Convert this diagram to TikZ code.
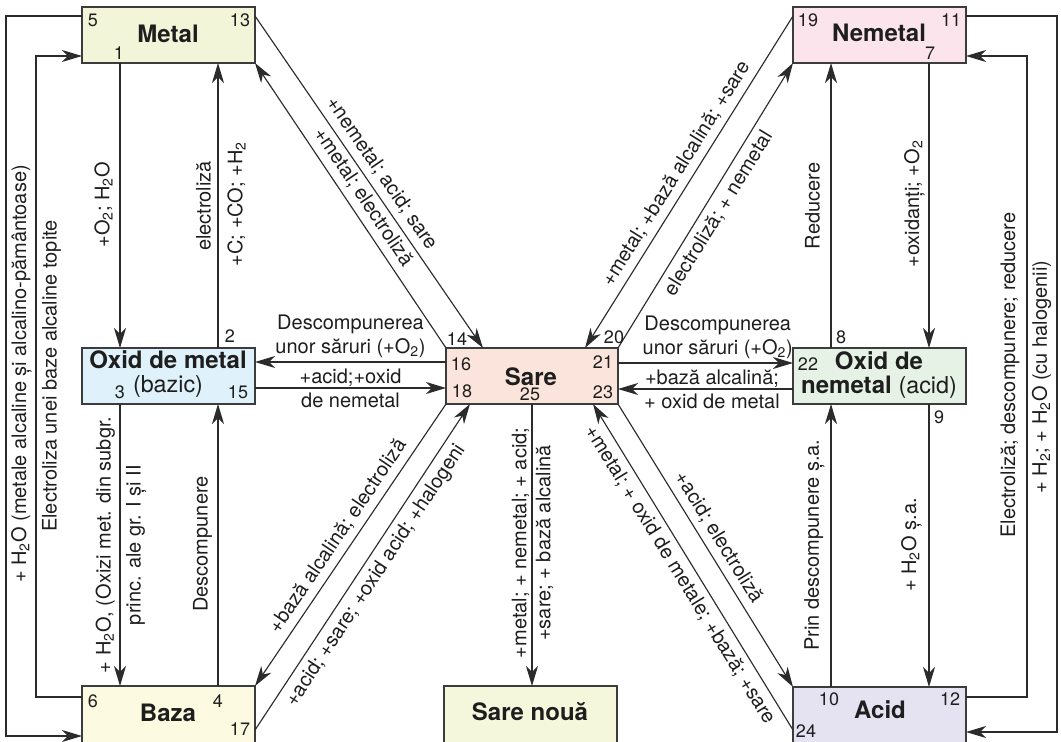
\documentclass[tikz,border=0pt]{standalone}
\usepackage{fontspec}
\setmainfont{TeX Gyre Heros}
\usetikzlibrary{arrows.meta,calc}
\newcommand\labfont{\fontsize{15}{18}\selectfont}
\newcommand\numfont{\fontsize{13.5}{16}\selectfont}
\newcommand\ttlfont{\fontsize{18}{21}\selectfont\bfseries}
\newcommand\ttlreg{\fontsize{17.5}{21}\selectfont}
\definecolor{metalc}{HTML}{F3F5D8}
\definecolor{oxmc}{HTML}{DFF1FA}
\definecolor{bazac}{HTML}{FCFBE1}
\definecolor{sarec}{HTML}{FBE4DB}
\definecolor{snc}{HTML}{F5F7DD}
\definecolor{nemc}{HTML}{FCE4EC}
\definecolor{oxnc}{HTML}{E5F2E5}
\definecolor{acidc}{HTML}{E5E2F1}
\definecolor{boxc}{HTML}{3C3C3C}
\definecolor{linec}{HTML}{2B2B2B}
\definecolor{txt}{HTML}{1E1E1E}
\begin{document}
\begin{tikzpicture}[x=0.75pt,y=-0.75pt,
 box/.style={draw=boxc, line width=1.1pt, minimum width=129.75pt, minimum height=42pt, inner sep=0pt, outer sep=0pt},
 bboxs/.style={box, minimum height=46.5pt},
 num/.style={font=\numfont, anchor=base, inner sep=0pt, text=txt},
 ttl/.style={font=\ttlfont, anchor=base, inner sep=0pt, text=txt},
 lab/.style={font=\labfont, inner sep=0pt, text=txt},
 vlab/.style={lab, rotate=90},
 slab/.style={font=\labfont, sloped, inner sep=4.5pt, text=txt, pos=0.5},
 con/.style={draw=linec, line width=0.85pt},
 arr/.style={con, -{Stealth[length=15pt,width=9pt,inset=4.5pt]}},
 rarr/.style={con, {Stealth[length=15pt,width=9pt,inset=4.5pt]}-},
]
\useasboundingbox (0,0) rectangle (1061,742);
\clip (0,0) rectangle (1061,742);
\fill[white] (0,0) rectangle (1061,742);

% boxes
\node[box, fill=metalc] (metal) at (168.5,35) {};
\node[box, fill=oxmc] (oxm) at (168.5,376) {};
\node[bboxs, fill=bazac] (baza) at (168.5,717) {};
\node[box, fill=sarec, minimum width=129pt] (sare) at (532,376) {};
\node[bboxs, fill=snc] (sarenoua) at (530.5,717) {};
\node[box, fill=nemc] (nemetal) at (879.5,35) {};
\node[box, fill=oxnc] (oxn) at (879.5,376) {};
\node[bboxs, fill=acidc] (acid) at (879.5,718) {};

% column / loop coordinates
\coordinate (cA) at (120,0);
\coordinate (cB) at (218,0);
\coordinate (cC) at (831,0);
\coordinate (cD) at (929,0);
\coordinate (cS) at (532,0);
\coordinate (lo1) at (6,16);
\coordinate (lo2) at (6,736);
\coordinate (li1) at (36,56);
\coordinate (li2) at (36,697);
\coordinate (ro1) at (1057,16);
\coordinate (ro2) at (1057,732);
\coordinate (ri1) at (1027,56);
\coordinate (ri2) at (1027,697);

% verticals
\draw[arr] (cA |- metal.south) -- (cA |- oxm.north);
\draw[arr] (cB |- oxm.north) -- (cB |- metal.south);
\draw[arr] (cA |- oxm.south) -- (cA |- baza.north);
\draw[arr] (cB |- baza.north) -- (cB |- oxm.south);
\draw[arr] (cD |- nemetal.south) -- (cD |- oxn.north);
\draw[arr] (cC |- oxn.north) -- (cC |- nemetal.south);
\draw[arr] (cD |- oxn.south) -- (cD |- acid.north);
\draw[arr] (cC |- acid.north) -- (cC |- oxn.south);
\draw[arr] (cS |- sare.south) -- (cS |- sarenoua.north);

% loops
\draw[arr] (lo1 -| metal.west) -- (lo1) -- (lo2) -- (lo2 -| baza.west);
\draw[arr] (li2 -| baza.west) -- (li2) -- (li1) -- (li1 -| metal.west);
\draw[arr] (ro1 -| nemetal.east) -- (ro1) -- (ro2) -- (ro2 -| acid.east);
\draw[arr] (ri2 -| acid.east) -- (ri2) -- (ri1) -- (ri1 -| nemetal.east);

% diagonals
\draw[arr] ($(metal.north east)+(0,9)$) -- node[slab, above] (lL1) {+nemetal; acid; sare} ($(sare.north west)+(37,0)$);
\draw[rarr] (metal.south east) -- node[slab, above] (lL2) {+metal; electroliză} (sare.north west);
\draw[rarr] ($(sare.north east)+(-33,0)$) -- node[slab, above] (lR1) {+metal; +bază alcalină; +sare} ($(nemetal.north west)+(0,9)$);
\draw[arr] (sare.north east) -- node[slab, below] (lR2) {electroliză; + nemetal} (nemetal.south west);
\draw[rarr] (baza.north east) -- node[slab, above] (lB1) {+bază alcalină; electroliză} (sare.south west);
\draw[arr] ($(baza.north east)+(0,44)$) -- node[slab, below] (lB2) {+acid; +sare; +oxid acid; +halogeni} ($(sare.south west)+(24,0)$);
\draw[rarr] ($(sare.south east)+(-25,0)$) -- node[slab, below] (lC1) {+metal; + oxid de metale; +bază; +sare} ($(acid.north west)+(0,43)$);
\draw[arr] (sare.south east) -- node[slab, above] (lC2) {+acid; electroliză} (acid.north west);

% horizontals
\draw[arr] ($(sare.north west)+(0,14)$) -- node[lab, above, inner sep=3pt, align=center] (lH1) {Descompunerea\\unor săruri (+O\textsubscript{2})} ($(oxm.north east)+(0,14)$);
\draw[arr] ($(oxm.north east)+(0,40)$) -- node[lab, align=center] (lH2) {+acid;+oxid\\de nemetal} ($(sare.north west)+(0,40)$);
\draw[arr] ($(sare.north east)+(0,15)$) -- node[lab, above, inner sep=3pt, align=center, pos=0.57] (lH3) {Descompunerea\\unor săruri (+O\textsubscript{2})} ($(oxn.north west)+(0,15)$);
\draw[arr] ($(oxn.north west)+(0,41)$) -- node[lab, align=center, pos=0.463] (lH4) {+bază alcalină;\\+ oxid de metal} ($(sare.north east)+(0,41)$);

% vertical labels
\node[vlab] (v1) at (103.5,205) {+O\textsubscript{2}; H\textsubscript{2}O};
\node[vlab] (v2) at (203.5,206) {electroliză};
\node[vlab] (v3) at (236.5,204) {+C; +CO; +H\textsubscript{2}};
\node[vlab, align=center] (v4) at (121,545) {+ H\textsubscript{2}O, (Oxizi met. din subgr.\\[4.5pt]princ. ale gr. I și II};
\node[vlab] (v5) at (202.5,544) {Descompunere};
\node[vlab] (v6) at (21.5,374) {+ H\textsubscript{2}O (metale alcaline și alcalino-pământoase)};
\node[vlab] (v7) at (51.5,376) {Electroliza unei baze alcaline topite};
\node[vlab] (v8) at (812.5,206) {Reducere};
\node[vlab] (v9) at (914.5,204) {+oxidanți; +O\textsubscript{2}};
\node[vlab] (v10) at (814.5,545) {Prin descompunere ș.a.};
\node[vlab] (v11) at (911.5,545) {+ H\textsubscript{2}O ș.a.};
\node[vlab] (v12) at (1010,375) {Electroliză; descompunere; reducere};
\node[vlab] (v13) at (1041.5,377) {+ H\textsubscript{2}; + H\textsubscript{2}O (cu halogenii)};
\node[vlab, align=center] (v14) at (532.5,543) {+metal; + nemetal; + acid;\\+sare; + bază alcalină};

% titles
\node[ttl] (tmetal) at (168,43) {Metal};
\node[ttl] (toxm) at (168,368) {Oxid de metal};
\node[ttl, font=\ttlreg] (toxm2) at (168,392) {(bazic)};
\node[ttl] (tbaza) at (168,721) {Baza};
\node[ttl] (tsare) at (531,385) {Sare};
\node[ttl] (tsn) at (530,720) {Sare nouă};
\node[ttl] (tnem) at (879,42) {Nemetal};
\node[ttl] (toxn) at (879,369) {Oxid de};
\node[ttl] (toxn2) at (879,393) {nemetal {\mdseries\ttlreg (acid)}};
\node[ttl] (tacid) at (880,718) {Acid};

% numbers
\node[num] (n5) at (93,27) {5};
\node[num] (n13) at (240,27) {13};
\node[num] (n1) at (119,60) {1};
\node[num] (n2) at (230,342) {2};
\node[num] (n3) at (120,398) {3};
\node[num] (n15) at (238,398) {15};
\node[num] (n6) at (93,707) {6};
\node[num] (n4) at (218,707) {4};
\node[num] (n17) at (240,735) {17};
\node[num] (n14) at (457,345) {14};
\node[num] (n16) at (461,370) {16};
\node[num] (n18) at (462,397) {18};
\node[num] (n25) at (530,400) {25};
\node[num] (n21) at (603,368) {21};
\node[num] (n23) at (603,398) {23};
\node[num] (n20) at (614,343) {20};
\node[num] (n19) at (808,27) {19};
\node[num] (n11) at (951,27) {11};
\node[num] (n7) at (930,60) {7};
\node[num] (n8) at (841,343) {8};
\node[num] (n22) at (808,370) {22};
\node[num] (n9) at (939,423) {9};
\node[num] (n10) at (829,705) {10};
\node[num] (n12) at (950,705) {12};
\node[num] (n24) at (806,737) {24};
\end{tikzpicture}
\end{document}
